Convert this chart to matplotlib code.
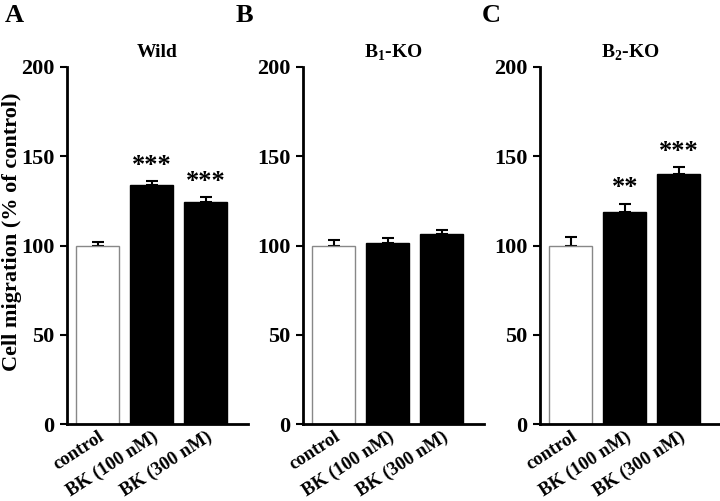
import matplotlib
matplotlib.use('Agg')
import matplotlib.pyplot as plt
import numpy as np

plt.rcParams['font.family'] = ['Liberation Serif', 'DejaVu Serif']
plt.rcParams['font.weight'] = 'bold'
plt.rcParams['mathtext.fontset'] = 'custom'
plt.rcParams['mathtext.rm'] = 'Liberation Serif:bold'
plt.rcParams['mathtext.bf'] = 'Liberation Serif:bold'

categories = ['control', 'BK (100 nM)', 'BK (300 nM)']
panels = ['A', 'B', 'C']
titles = ['Wild', r'B$_\mathbf{1}$-KO', r'B$_\mathbf{2}$-KO']
means = [[100, 134, 124.5],
         [100, 101.5, 106.5],
         [100, 118.5, 140]]
errors = [[2.2, 2.2, 2.5],
          [3.0, 2.8, 2.2],
          [4.5, 5.0, 4.0]]
stars = [['', '***', '***'],
         ['', '', ''],
         ['', '**', '***']]

W, H = 720, 501
fig = plt.figure(figsize=(7.2, 5.01), dpi=100)

# axes left edges / letter positions in pixels
ax_left = [67, 303, 540]
ax_width = 181
bottom, top = 424, 67
letter_x = [5, 236, 482]

for i in range(3):
    ax = fig.add_axes([ax_left[i] / W, 1 - bottom / H, ax_width / W, (bottom - top) / H])
    x = np.arange(3)
    colors = ['white', 'black', 'black']
    edges = ['#888888', 'black', 'black']
    ax.bar(x, means[i], width=0.8, color=colors, edgecolor=edges, linewidth=1.0, zorder=2)
    # one-sided error bars (upper only)
    ax.errorbar(x, means[i], yerr=[np.zeros(3), errors[i]], fmt='none', ecolor='black',
                elinewidth=1.5, capsize=4, capthick=1.5, zorder=1)
    for j in range(3):
        if stars[i][j]:
            ax.annotate(stars[i][j], (x[j], means[i][j] + errors[i][j]), xytext=(0, 3),
                        textcoords='offset points', ha='center', va='bottom',
                        fontsize=19, fontweight='bold')
    ax.set_xlim(-0.57, 2.78)
    ax.set_ylim(0, 200)
    ax.set_yticks([0, 50, 100, 150, 200])
    ax.tick_params(axis='y', direction='out', length=5, width=1.5, labelsize=16, pad=4)
    ax.tick_params(axis='x', length=0, labelsize=13.5, pad=3)
    ax.set_xticks(x)
    ax.set_xticklabels(categories, rotation=33, ha='right', rotation_mode='anchor')
    for lab in ax.get_xticklabels() + ax.get_yticklabels():
        lab.set_fontweight('bold')
    ax.spines['top'].set_visible(False)
    ax.spines['right'].set_visible(False)
    ax.spines['left'].set_linewidth(2)
    ax.spines['bottom'].set_linewidth(2)
    ax.set_title(titles[i], fontsize=14, fontweight='bold', pad=7)
    fig.text(letter_x[i] / W, 1 - 22 / H, panels[i], fontsize=19, fontweight='bold',
             ha='left', va='baseline')

fig.text(12 / W, 1 - 232 / H, 'Cell migration (% of control)', rotation=90,
         fontsize=16, fontweight='bold', ha='center', va='center')

fig.savefig('out.png', dpi=100)
